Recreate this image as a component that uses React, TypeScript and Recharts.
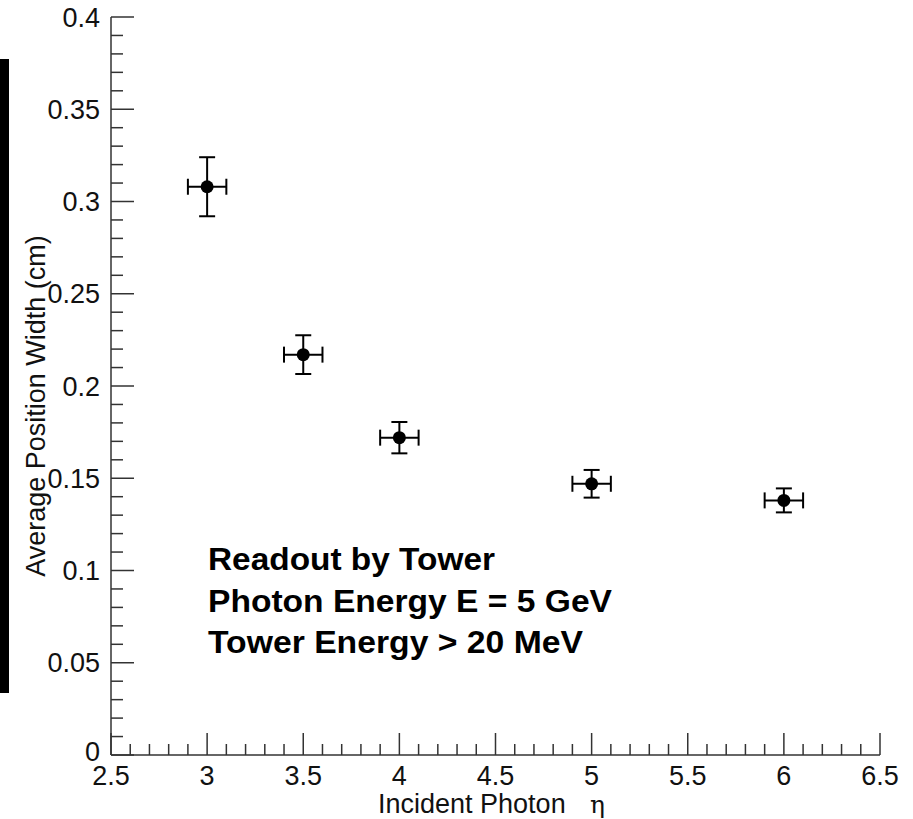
import React from "react";
import {
  ScatterChart,
  Scatter,
  XAxis,
  YAxis,
  ErrorBar,
} from "recharts";

// incident photon eta vs average position width
const etaValues = [3, 3.5, 4, 5, 6];
const etaErrors = [0.1, 0.1, 0.1, 0.1, 0.1];
const widthValues = [0.308, 0.217, 0.172, 0.147, 0.138];
const widthErrors = [0.016, 0.0105, 0.0085, 0.0075, 0.0065];

const xMajorTicks = [2.5, 3, 3.5, 4, 4.5, 5, 5.5, 6, 6.5];
const xTickLabels = ["2.5", "3", "3.5", "4", "4.5", "5", "5.5", "6", "6.5"];
const yMajorTicks = [0, 0.05, 0.1, 0.15, 0.2, 0.25, 0.3, 0.35, 0.4];
const yTickLabels = ["0", "0.05", "0.1", "0.15", "0.2", "0.25", "0.3", "0.35", "0.4"];

const infoLines = [
  "Readout by Tower",
  "Photon Energy E = 5 GeV",
  "Tower Energy > 20 MeV",
];
// rendered widths in the reference (ROOT stretches the text a bit)
const infoWidths = [287, 404, 375];

const data = etaValues.map((eta, i) => ({
  eta,
  etaErr: etaErrors[i],
  width: widthValues[i],
  widthErr: widthErrors[i],
}));

// minor ticks every 1/5 of a major division (ROOT style)
const minorTicks = (major: number[]) => {
  const out: number[] = [];
  for (let i = 0; i < major.length - 1; i++) {
    const step = (major[i + 1] - major[i]) / 5;
    for (let k = 0; k < 5; k++) out.push(+(major[i] + k * step).toFixed(4));
  }
  out.push(major[major.length - 1]);
  return out;
};
const xTicks = minorTicks(xMajorTicks);
const yTicks = minorTicks(yMajorTicks);

const FONT = "'Liberation Sans', Arial, Helvetica, sans-serif";
const AXIS = "#333";

const XTick = (props: any) => {
  const { x, y, payload } = props;
  const idx = xMajorTicks.findIndex((v) => Math.abs(v - payload.value) < 1e-6);
  const major = idx >= 0;
  return (
    <g>
      <line x1={x} x2={x} y1={y} y2={y - (major ? 22 : 11)} stroke={AXIS} strokeWidth={1.5} />
      {major && (
        <text x={x} y={y + 30} textAnchor="middle" fontFamily={FONT} fontSize={27} fill="#111">
          {xTickLabels[idx]}
        </text>
      )}
    </g>
  );
};

const YTick = (props: any) => {
  const { x, y, payload } = props;
  const idx = yMajorTicks.findIndex((v) => Math.abs(v - payload.value) < 1e-6);
  const major = idx >= 0;
  return (
    <g>
      <line x1={x} x2={x + (major ? 23 : 12)} y1={y} y2={y} stroke={AXIS} strokeWidth={1.5} />
      {major && (
        <text x={x - 11} y={y + 9.5 - (idx === 0 ? 4 : 0)} textAnchor="end" fontFamily={FONT} fontSize={27} fill="#111">
          {yTickLabels[idx]}
        </text>
      )}
    </g>
  );
};

const Dot = (props: any) => <circle cx={props.cx} cy={props.cy} r={6.5} fill="#000" />;

export default function App() {
  return (
    <div style={{ position: "absolute", left: 0, top: 0, width: 913, height: 819, background: "#fff" }}>
      <div style={{ position: "absolute", left: 0, top: 59, width: 9, height: 634, background: "#000" }} />
      <ScatterChart
        width={913}
        height={819}
        margin={{ top: 17, right: 33, left: 0, bottom: 0 }}
        style={{ position: "absolute", left: 0, top: 0 }}
      >
        <XAxis
          xAxisId="b"
          type="number"
          dataKey="eta"
          domain={[2.5, 6.5]}
          ticks={xTicks}
          interval={0}
          allowDataOverflow
          height={64}
          tickSize={0}
          tickMargin={0}
          tick={<XTick />}
          axisLine={{ stroke: AXIS, strokeWidth: 1.5 }}
        />
        <XAxis
          xAxisId="t"
          orientation="top"
          type="number"
          dataKey="eta"
          domain={[2.5, 6.5]}
          height={0}
          tick={false}
          tickLine={false}
          axisLine={{ stroke: AXIS, strokeWidth: 1.5 }}
        />
        <YAxis
          yAxisId="l"
          type="number"
          dataKey="width"
          domain={[0, 0.4]}
          ticks={yTicks}
          interval={0}
          allowDataOverflow
          width={111}
          tickSize={0}
          tickMargin={0}
          tick={<YTick />}
          axisLine={{ stroke: AXIS, strokeWidth: 1.5 }}
        />
        <YAxis
          yAxisId="r"
          orientation="right"
          type="number"
          dataKey="width"
          domain={[0, 0.4]}
          width={0}
          tick={false}
          tickLine={false}
          axisLine={{ stroke: AXIS, strokeWidth: 1.5 }}
        />
        <Scatter
          data={data}
          xAxisId="b"
          yAxisId="l"
          fill="#000"
          shape={<Dot />}
          isAnimationActive={false}
        >
          <ErrorBar dataKey="widthErr" direction="y" width={8} stroke="#000" strokeWidth={2} isAnimationActive={false} />
          <ErrorBar dataKey="etaErr" direction="x" width={8} stroke="#000" strokeWidth={2} isAnimationActive={false} />
        </Scatter>
      </ScatterChart>
      <svg
        width={913}
        height={819}
        style={{ position: "absolute", left: 0, top: 0, pointerEvents: "none" }}
      >
        {infoLines.map((line, i) => (
          <text
            key={line}
            x={208}
            y={570 + i * 41.5}
            fontFamily={FONT}
            fontWeight="bold"
            fontSize={31}
            textLength={infoWidths[i]}
            lengthAdjust="spacingAndGlyphs"
            fill="#000"
          >
            {line}
          </text>
        ))}
        <text x={378} y={813} fontFamily={FONT} fontSize={27} fill="#111">
          Incident Photon
        </text>
        <text x={590} y={813} fontFamily="'DejaVu Serif', 'Liberation Serif', serif" fontSize={25} fill="#111">
          η
        </text>
        <text
          transform="translate(45,406) rotate(-90)"
          textAnchor="middle"
          fontFamily={FONT}
          fontSize={27}
          fill="#111"
        >
          Average Position Width (cm)
        </text>
      </svg>
    </div>
  );
}
